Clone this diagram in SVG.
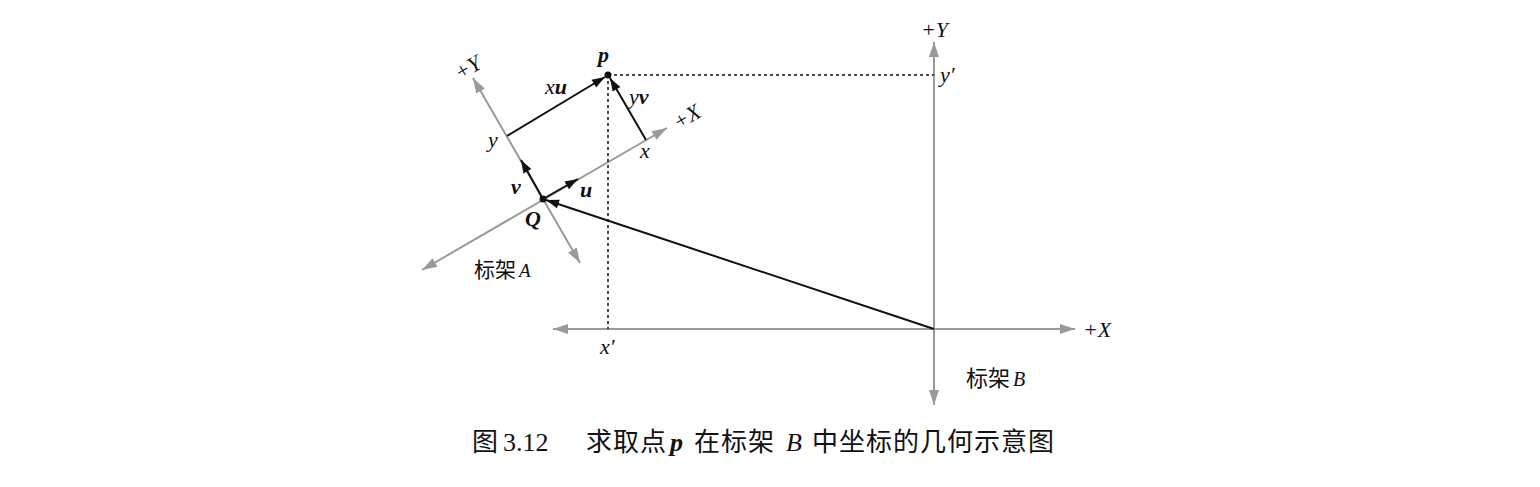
<svg xmlns="http://www.w3.org/2000/svg" width="1540" height="487" viewBox="0 0 1540 487">
<style>
.ax{stroke:#9a9a9a;stroke-width:2;fill:none}
.bk{stroke:#111;stroke-width:2;fill:none}
.ds{stroke:#111;stroke-width:1.5;stroke-dasharray:3,3;fill:none}
.lb{font-family:"Liberation Serif","DejaVu Serif",serif;font-style:italic;font-size:22px;fill:#111}
.bi{font-weight:bold}
.cj{font-family:"Noto Sans CJK SC",sans-serif;font-style:normal}
.cap{font-family:"Liberation Serif","Noto Serif CJK SC","Noto Sans CJK SC",serif;font-size:26px;fill:#111}
</style>
<defs>
<marker id="ga" markerUnits="userSpaceOnUse" markerWidth="16" markerHeight="12" refX="15" refY="5" orient="auto" overflow="visible">
<path d="M0,0 L15,5 L0,10 Z" fill="#9a9a9a"/>
</marker>
<marker id="gs" markerUnits="userSpaceOnUse" markerWidth="16" markerHeight="12" refX="0" refY="5" orient="auto" overflow="visible">
<path d="M15,0 L0,5 L15,10 Z" fill="#9a9a9a"/>
</marker>
<marker id="ba" markerUnits="userSpaceOnUse" markerWidth="14" markerHeight="10" refX="13" refY="4.5" orient="auto" overflow="visible">
<path d="M0,0 L13,4.5 L0,9 Z" fill="#111"/>
</marker>
</defs>

<g id="connectors">
<line class="ax" x1="553" y1="329" x2="1075" y2="329" marker-start="url(#gs)" marker-end="url(#ga)"/>
<line class="ax" x1="934" y1="405" x2="934" y2="42" marker-start="url(#gs)" marker-end="url(#ga)"/>
<line class="ax" x1="422" y1="270" x2="667" y2="128" marker-start="url(#gs)" marker-end="url(#ga)"/>
<line class="ax" x1="580" y1="263" x2="473" y2="78" marker-start="url(#gs)" marker-end="url(#ga)"/>
<line class="ds" x1="608" y1="75" x2="934" y2="75"/>
<line class="ds" x1="608" y1="75" x2="608" y2="329"/>
<line class="bk" x1="934" y1="329" x2="546" y2="200" marker-end="url(#ba)"/>
<line class="bk" x1="507" y1="136" x2="605" y2="77" marker-end="url(#ba)"/>
<line class="bk" x1="646" y1="140" x2="610" y2="78" marker-end="url(#ba)"/>
<line class="bk" x1="543" y1="199" x2="578" y2="179" marker-end="url(#ba)"/>
<line class="bk" x1="543" y1="199" x2="521" y2="160" marker-end="url(#ba)"/>
</g>

<g id="node-p">
<circle cx="608" cy="75" r="3.5" fill="#111"/>
<text class="lb bi" x="598" y="62" font-size="23">p</text>
</g>
<g id="node-Q">
<circle cx="543" cy="199" r="3.5" fill="#111"/>
<text class="lb bi" x="525" y="226">Q</text>
</g>
<g id="labels-A">
<text class="lb" x="545" y="94"><tspan>x</tspan><tspan class="bi">u</tspan></text>
<text class="lb" x="629" y="104"><tspan>y</tspan><tspan class="bi">v</tspan></text>
<text class="lb" x="488" y="147">y</text>
<text class="lb" x="640" y="158">x</text>
<text class="lb bi" x="511" y="194">v</text>
<text class="lb bi" x="580" y="197">u</text>
<text class="lb" transform="translate(687,117) rotate(-30)" text-anchor="middle" dy="7">+X</text>
<text class="lb" transform="translate(468,68) rotate(-30)" text-anchor="middle" dy="7">+Y</text>
<text class="lb" x="474" y="277"><tspan class="cj" font-size="21">标架</tspan><tspan dx="3" font-size="19">A</tspan></text>
</g>
<g id="labels-B">
<text class="lb" x="921" y="37">+Y</text>
<text class="lb" x="940" y="82">y′</text>
<text class="lb" x="1083" y="337">+X</text>
<text class="lb" x="600" y="354">x′</text>
<text class="lb" x="966" y="386"><tspan class="cj" font-size="22">标架</tspan><tspan dx="3" font-size="20">B</tspan></text>
</g>
<g id="caption">
<text class="cap" y="451"><tspan x="472" font-family="Noto Sans CJK SC,sans-serif">图</tspan><tspan x="503">3.12</tspan><tspan x="586" font-family="Noto Sans CJK SC,sans-serif" letter-spacing="1">求取点</tspan><tspan x="670" font-style="italic" font-weight="bold">p</tspan><tspan x="694" font-family="Noto Sans CJK SC,sans-serif" letter-spacing="1">在标架</tspan><tspan x="786" font-style="italic">B</tspan><tspan x="812" font-family="Noto Sans CJK SC,sans-serif" letter-spacing="1">中坐标的几何示意图</tspan></text>
</g>
</svg>
